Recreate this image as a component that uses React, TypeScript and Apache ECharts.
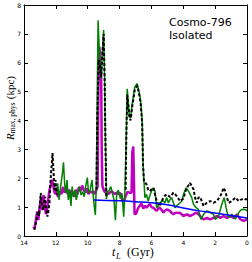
import React, { useEffect, useRef } from "react";
import * as echarts from "echarts";

// ---- data (lookback time in Gyr, R_max,phys in kpc) ----
const magentaT = [13.42,13.32,13.24,13.17,13.1,13.02,12.94,12.86,12.78,12.7,12.62,12.55,12.48,12.4,12.32,12.25,12.18,12.1,12.04,11.97,11.9,11.83,11.75,11.65,11.55,11.45,11.35,11.25,11.15,11.05,10.95,10.85,10.75,10.65,10.55,10.45,10.35,10.25,10.15,10.05,9.95,9.85,9.75,9.65,9.55,9.45,9.38,9.33,9.27,9.2,9.16,9.12,9.08,9.0,8.9,8.8,8.7,8.6,8.5,8.4,8.3,8.2,8.1,8.0,7.9,7.8,7.7,7.6,7.5,7.38,7.25,7.2,7.14,7.1,7.06,6.95,6.85,6.73,6.62,6.51,6.41,6.31,6.2,6.1,5.99,5.88,5.78,5.67,5.57,5.47,5.36,5.25,5.15,5.04,4.94,4.84,4.73,4.62,4.52,4.41,4.31,4.21,4.1,3.99,3.89,3.78,3.68,3.58,3.47,3.36,3.26,3.15,3.05,2.94,2.84,2.73,2.62,2.52,2.42,2.31,2.2,2.1,2.0,1.89,1.78,1.68,1.58,1.47,1.37,1.26,1.15,1.05,0.95,0.84,0.74,0.63,0.52,0.42,0.32,0.21,0.1,0.0];
const magentaV = [0.25,0.32,0.6,0.85,0.55,1.0,1.3,0.9,1.42,1.1,0.75,0.92,1.25,1.6,1.75,1.95,1.8,1.55,1.45,1.68,1.4,1.36,1.55,1.45,1.7,1.5,1.65,1.45,1.6,1.4,1.55,1.35,1.6,1.45,1.7,1.55,1.75,1.6,1.5,1.65,1.45,1.55,1.5,1.55,1.45,1.6,1.7,5.0,6.55,6.1,5.86,3.0,1.75,1.6,1.5,1.55,1.45,1.5,1.55,1.5,1.45,1.5,1.45,1.5,1.42,1.2,1.25,1.4,1.53,1.5,1.5,2.9,3.1,2.0,0.75,0.78,0.95,1.05,1.12,0.95,1.05,0.98,1.05,1.1,1.0,0.98,0.92,0.87,0.95,0.98,0.9,0.81,0.88,0.92,0.9,0.87,0.8,0.75,0.8,0.81,0.79,0.81,0.75,0.69,0.72,0.75,0.72,0.69,0.72,0.75,0.79,0.81,0.75,0.69,0.62,0.58,0.6,0.63,0.6,0.58,0.6,0.63,0.66,0.69,0.66,0.63,0.66,0.69,0.66,0.63,0.66,0.69,0.66,0.63,0.69,0.75,0.66,0.58,0.55,0.52,0.55,0.58];

const greenT = [11.95,11.88,11.8,11.7,11.58,11.52,11.45,11.38,11.3,11.22,11.15,11.05,10.98,10.9,10.8,10.72,10.62,10.52,10.42,10.32,10.22,10.12,10.02,9.95,9.85,9.73,9.65,9.58,9.52,9.46,9.4,9.35,9.3,9.22,9.16,9.08,9.0,8.94,8.88,8.83,8.75,8.65,8.55,8.45,8.35,8.26,8.18,8.08,7.95,7.85,7.74,7.66,7.58,7.52,7.45,7.38,7.31,7.2,7.05,6.89,6.78,6.68,6.58,6.53,6.48,6.41,6.31,6.2,6.1,5.99,5.88,5.78,5.67,5.57,5.47,5.36,5.25,5.15,5.04,4.94,4.84,4.73,4.62,4.52,4.41,4.31,4.2,4.1,3.95,3.83,3.68,3.58,3.47,3.36,3.2,3.05,2.9,2.82,2.73,2.62,2.52,2.42,2.31,2.2,2.1,2.0,1.89,1.78,1.68,1.58,1.43,1.31,1.22,1.15,1.05,0.95,0.84,0.74,0.63,0.52,0.42,0.32,0.21,0.11,0.0];
const greenV = [1.5,1.82,1.25,1.71,2.2,2.55,1.82,1.48,1.94,1.25,1.6,1.04,1.71,1.36,1.59,1.25,1.48,1.71,1.42,1.53,1.36,1.75,2.02,1.48,1.59,1.94,1.36,0.98,0.73,1.8,5.0,7.47,6.8,5.8,5.46,6.4,7.13,5.5,3.0,1.3,1.48,1.59,1.71,1.48,1.25,0.55,1.48,1.59,1.3,1.48,0.67,1.59,3.5,5.1,4.6,4.15,4.07,4.6,5.15,5.28,5.0,4.7,4.0,2.5,2.02,1.33,1.44,1.21,1.4,1.56,1.67,1.56,0.98,1.04,1.15,1.2,1.21,1.15,1.33,1.15,1.25,1.33,1.15,0.98,1.05,1.1,1.15,1.21,1.5,1.67,1.56,1.45,1.33,1.1,0.98,0.92,0.58,0.65,0.75,0.82,0.87,0.85,0.81,0.78,0.75,0.58,0.62,0.69,0.9,1.1,1.33,0.98,0.75,0.63,0.7,0.75,0.68,0.58,0.7,0.81,0.88,0.92,0.93,0.92,0.87];

// null = gap in the dashed curve
const blackT = [13.34,13.28,13.2,13.12,13.05,12.95,12.87,12.78,12.72,12.67,12.6,12.53,12.46,12.4,12.36,12.3,12.25,12.21,12.15,12.09,12.02,11.94,9.5,9.45,9.4,9.32,9.25,9.16,9.08,9.0,8.94,8.88,8.83,7.7,7.62,7.58,7.52,7.45,7.38,7.31,7.2,7.05,6.89,6.78,6.68,6.58,6.53,6.47,6.31,6.2,6.1,5.99,5.88,5.78,5.67,5.57,5.47,5.36,5.25,5.15,5.04,4.94,4.84,4.73,4.62,4.52,4.41,4.31,4.21,4.1,3.99,3.89,3.78,3.68,3.58,3.47,3.36,3.26,3.15,3.05,2.94,2.84,2.73,2.62,2.52,2.42,2.31,2.2,2.1,2.0,1.89,1.78,1.68,1.58,1.47,1.37,1.26,1.15,1.05,0.95,0.84,0.74,0.63,0.52,0.42,0.32,0.21,0.11,0.0];
const blackV = [0.21,0.4,0.62,0.84,0.7,1.49,1.1,0.9,1.2,1.36,0.9,0.67,0.9,1.14,1.7,2.2,2.52,2.87,2.28,1.6,1.94,1.42,null,1.6,4.0,6.1,6.0,5.5,6.3,7.0,5.5,3.0,1.3,null,1.6,3.3,4.9,4.5,4.1,4.0,4.5,5.05,5.2,4.95,4.6,3.9,2.5,1.9,1.79,1.6,1.55,1.62,1.67,1.45,1.21,1.1,1.04,1.2,1.33,1.4,1.44,1.4,1.35,1.42,1.5,1.45,1.38,1.3,1.21,1.25,1.3,1.5,1.67,1.75,1.84,1.73,1.62,1.33,1.15,1.33,1.35,1.21,1.04,1.1,1.15,1.18,1.21,1.18,1.15,1.18,1.21,1.3,1.38,1.5,1.67,1.56,1.33,1.15,1.18,1.21,1.27,1.33,1.27,1.21,1.25,1.27,1.3,1.27,1.27];

const blueT = [9.63,8.0,7.0,6.0,5.0,4.0,3.0,2.0,1.0,0.0];
const blueV = [1.25,1.22,1.19,1.15,1.08,0.97,0.87,0.8,0.71,0.62];

const xMin = 0, xMax = 14, xStep = 2;
const yMin = 0, yMax = 8, yStep = 1;
const annotation = ["Cosmo-796", "Isolated"];

const pairs = (t: number[], v: (number | null)[]) =>
  t.map((x, i) => [x, v[i] === null ? "-" : v[i]]);

const axisBase = {
  type: "value" as const,
  axisLine: { show: true, onZero: false, lineStyle: { color: "#000", width: 1 } },
  axisTick: { show: true, inside: true, length: 4, lineStyle: { color: "#000", width: 1 } },
  splitLine: { show: false },
};

const SERIF = '"Liberation Serif", serif';

export default function App() {
  const ref = useRef<HTMLDivElement>(null);
  useEffect(() => {
    if (!ref.current) return;
    const chart = echarts.init(ref.current, undefined, { renderer: "svg" });
    const tickLabel = { fontSize: 6, color: "#000", fontFamily: "DejaVu Sans", showMinLabel: true, showMaxLabel: true };
    chart.setOption({
      animation: false,
      backgroundColor: "#fff",
      grid: { left: 24, right: 5, top: 5, bottom: 26, containLabel: false, outerBoundsMode: "none" },
      xAxis: [
        { ...axisBase, position: "bottom", min: xMin, max: xMax, interval: xStep, inverse: true,
          axisLabel: { ...tickLabel, margin: 3 } },
        { ...axisBase, position: "top", min: xMin, max: xMax, interval: xStep, inverse: true,
          axisLabel: { show: false } },
      ],
      yAxis: [
        { ...axisBase, position: "left", min: yMin, max: yMax, interval: yStep,
          axisLabel: { ...tickLabel, margin: 3 },
          name: "{r|R}{s|max, phys} {n|(kpc)}",
          nameLocation: "middle", nameRotate: 90, nameGap: 8, nameMoveOverlap: false,
          nameTextStyle: {
            color: "#000", padding: [0, 0, 0, 25],
            rich: {
              r: { fontFamily: SERIF, fontStyle: "italic", fontSize: 11, lineHeight: 13, color: "#000", verticalAlign: "middle" },
              s: { fontFamily: SERIF, fontSize: 7.5, lineHeight: 6, color: "#000", verticalAlign: "bottom" },
              n: { fontFamily: SERIF, fontSize: 11, lineHeight: 13, color: "#000", verticalAlign: "middle" },
            },
          } },
        { ...axisBase, position: "right", min: yMin, max: yMax, interval: yStep,
          axisLabel: { show: false } },
      ],
      series: [
        { type: "line", name: "magenta", xAxisIndex: 0, yAxisIndex: 0, data: pairs(magentaT, magentaV),
          symbol: "none", z: 2, lineStyle: { color: "#bf00bf", width: 2.5 } },
        { type: "line", name: "green", xAxisIndex: 0, yAxisIndex: 0, data: pairs(greenT, greenV),
          symbol: "none", z: 3, lineStyle: { color: "#008000", width: 1.5 } },
        { type: "line", name: "black", xAxisIndex: 0, yAxisIndex: 0, data: pairs(blackT, blackV),
          symbol: "none", z: 4, connectNulls: false, lineStyle: { color: "#000", width: 2, type: [3, 2] } },
        { type: "line", name: "blue", xAxisIndex: 0, yAxisIndex: 0, data: pairs(blueT, blueV),
          symbol: "none", z: 5, smooth: true, lineStyle: { color: "#0000ff", width: 1.5 } },
      ],
      graphic: [
        { type: "text", left: 169, top: 16, z: 10,
          style: { text: annotation.join("\n"), fontSize: 11, fontFamily: "DejaVu Sans", fill: "#000", lineHeight: 13 } },
        { type: "text", x: 112, y: 246, z: 10,
          style: { text: "t", font: 'italic 12px "Liberation Serif"', fill: "#000", verticalAlign: "top" } },
        { type: "text", x: 116, y: 251, z: 10,
          style: { text: "L", font: 'italic 8.5px "Liberation Serif"', fill: "#000", verticalAlign: "top" } },
        { type: "text", x: 127, y: 246, z: 10,
          style: { text: "(Gyr)", font: '12px "Liberation Serif"', fill: "#000", verticalAlign: "top" } },
      ],
    });
    return () => chart.dispose();
  }, []);
  return <div ref={ref} style={{ position: "fixed", left: 0, top: 0, width: 252, height: 262, background: "#fff" }} />;
}
